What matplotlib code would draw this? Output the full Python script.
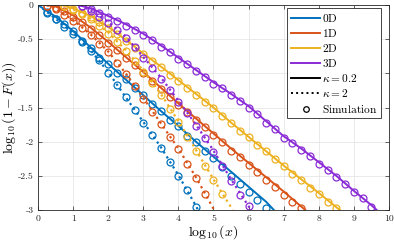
import matplotlib
matplotlib.use('Agg')
import matplotlib.pyplot as plt
from matplotlib.lines import Line2D

plt.rcParams['mathtext.fontset'] = 'cm'
plt.rcParams['font.family'] = ['cmr10', 'DejaVu Serif']
plt.rcParams['axes.unicode_minus'] = False
plt.rcParams['axes.formatter.use_mathtext'] = True

labels = ['0D', '1D', '2D', '3D']
colors = ['#0072BD', '#D95319', '#EDB120', '#8A2BD6']

# fitted curves, kappa = 0.2 (solid)
solid_x = [
    [0, 0.5, 1, 1.5, 2, 2.5, 3, 3.5, 4, 4.5, 5, 5.5, 6, 6.5, 6.72],
    [0.2, 0.5, 1, 1.5, 2, 2.5, 3, 3.5, 4, 4.5, 5, 5.5, 6, 6.5, 7, 7.5, 7.62],
    [0.7, 1, 1.5, 2, 2.5, 3, 3.5, 4, 4.5, 5, 5.5, 6, 6.5, 7, 7.5, 8, 8.5, 8.6],
    [1.15, 1.5, 2, 2.5, 3, 3.5, 4, 4.5, 5, 5.5, 6, 6.5, 7, 7.5, 8, 8.5, 9, 9.5, 9.65],
]
solid_y = [
    [0, -0.17, -0.38, -0.62, -0.86, -1.09, -1.32, -1.55, -1.77, -2.0, -2.22, -2.44, -2.66, -2.88, -3.0],
    [0, -0.02, -0.15, -0.33, -0.54, -0.76, -0.98, -1.21, -1.44, -1.66, -1.88, -2.1, -2.31, -2.52, -2.73, -2.95, -3.0],
    [0, -0.05, -0.16, -0.32, -0.51, -0.71, -0.9, -1.1, -1.3, -1.5, -1.72, -1.93, -2.14, -2.35, -2.55, -2.75, -2.96, -3.0],
    [0, -0.05, -0.16, -0.28, -0.42, -0.59, -0.77, -0.95, -1.13, -1.3, -1.48, -1.7, -1.92, -2.1, -2.3, -2.5, -2.72, -2.93, -3.0],
]

# fitted curves, kappa = 2 (dotted)
dot_x = [
    [0, 0.5, 1, 1.5, 2, 2.5, 3, 3.5, 4, 4.5, 4.56],
    [0.25, 0.5, 1, 1.5, 2, 2.5, 3, 3.5, 4, 4.5, 5.02],
    [0.7, 1, 1.5, 2, 2.5, 3, 3.5, 4, 4.5, 5, 5.55],
    [1.2, 1.5, 2, 2.5, 3, 3.5, 4, 4.5, 5, 5.5, 6.07],
]
dot_y = [
    [0, -0.2, -0.41, -0.66, -0.98, -1.35, -1.71, -2.08, -2.49, -2.94, -3.0],
    [0, -0.05, -0.22, -0.43, -0.68, -1.0, -1.36, -1.73, -2.1, -2.52, -3.0],
    [0, -0.06, -0.2, -0.4, -0.66, -0.96, -1.3, -1.7, -2.12, -2.55, -3.0],
    [0, -0.08, -0.25, -0.46, -0.76, -1.06, -1.4, -1.75, -2.13, -2.55, -3.0],
]

# simulation points (every quarter decade)
sim_solid_x0 = [0.25, 0.25, 0.75, 1.25]
sim_solid_y = [
    [-0.1, -0.2, -0.28, -0.38, -0.52, -0.63, -0.77, -0.86, -0.99, -1.09, -1.22, -1.31, -1.45,
     -1.55, -1.68, -1.77, -1.91, -2.0, -2.14, -2.24, -2.37, -2.5, -2.62, -2.74, -2.85, -2.97],
    [-0.01, -0.04, -0.09, -0.17, -0.25, -0.35, -0.44, -0.56, -0.66, -0.78, -0.88, -1.0, -1.11,
     -1.23, -1.34, -1.46, -1.56, -1.69, -1.78, -1.9, -2.01, -2.13, -2.22, -2.34, -2.44, -2.56,
     -2.66, -2.78, -2.88, -2.97],
    [-0.02, -0.06, -0.12, -0.18, -0.25, -0.33, -0.43, -0.52, -0.63, -0.72, -0.82, -0.91, -1.02,
     -1.11, -1.22, -1.31, -1.42, -1.5, -1.63, -1.72, -1.84, -1.93, -2.05, -2.14, -2.26, -2.35,
     -2.47, -2.56, -2.68, -2.76, -2.88, -2.97],
    [-0.02, -0.06, -0.11, -0.17, -0.23, -0.3, -0.36, -0.44, -0.51, -0.61, -0.69, -0.79, -0.87,
     -0.97, -1.05, -1.15, -1.22, -1.32, -1.4, -1.5, -1.6, -1.72, -1.82, -1.94, -2.02, -2.12,
     -2.21, -2.32, -2.41, -2.52, -2.62, -2.74, -2.83, -2.95],
]
sim_dot_x0 = [0.25, 0.25, 0.75, 1.25]
sim_dot_y = [
    [-0.11, -0.21, -0.32, -0.42, -0.54, -0.67, -0.81, -0.99, -1.17, -1.35, -1.54, -1.73, -1.9,
     -2.09, -2.3, -2.5, -2.71, -2.96],
    [-0.01, -0.06, -0.14, -0.23, -0.33, -0.44, -0.57, -0.69, -0.85, -1.01, -1.19, -1.37, -1.56,
     -1.74, -1.93, -2.11, -2.33, -2.53, -2.76],
    [-0.02, -0.07, -0.13, -0.21, -0.31, -0.42, -0.54, -0.68, -0.82, -0.98, -1.14, -1.32, -1.52,
     -1.71, -1.93, -2.14, -2.35, -2.56, -2.77],
    [-0.02, -0.09, -0.17, -0.27, -0.36, -0.48, -0.61, -0.78, -0.92, -1.08, -1.24, -1.42, -1.58,
     -1.77, -1.95, -2.15, -2.35, -2.57, -2.78, -2.94],
]

xticks = [0, 1, 2, 3, 4, 5, 6, 7, 8, 9, 10]
yticks = [-3, -2.5, -2, -1.5, -1, -0.5, 0]
ytick_labels = ['-3', '-2.5', '-2', '-1.5', '-1', '-0.5', '0']

fig = plt.figure(figsize=(3.94, 2.42), dpi=100)
ax = fig.add_axes([0.0964, 0.1322, 0.8909, 0.8471])

for i in range(4):
    c = colors[i]
    ax.plot(solid_x[i], solid_y[i], '-', color=c, lw=1.4)
    ax.plot(dot_x[i], dot_y[i], ':', color=c, lw=1.6)
    xs = [sim_solid_x0[i] + 0.25 * k for k in range(len(sim_solid_y[i]))]
    ax.plot(xs, sim_solid_y[i], 'o', mfc='none', mec=c, ms=5, mew=0.9)
    xd = [sim_dot_x0[i] + 0.25 * k for k in range(len(sim_dot_y[i]))]
    ax.plot(xd, sim_dot_y[i], 'o', mfc='none', mec=c, ms=5, mew=0.9)

ax.set_xlim(0, 10)
ax.set_ylim(-3, 0)
ax.set_xticks(xticks)
ax.set_xticklabels([str(t) for t in xticks])
ax.set_yticks(yticks)
ax.set_yticklabels(ytick_labels)
ax.tick_params(direction='in', top=True, right=True, labelsize=7, length=3,
               width=0.5, colors='#262626', pad=3)
ax.grid(True, color='#e6e6e6', lw=0.6)
ax.set_axisbelow(True)
for s in ax.spines.values():
    s.set_linewidth(0.6)
    s.set_color('#262626')

ax.set_xlabel(r'$\log_{10}(x)$', fontsize=10, va='center')
ax.set_ylabel(r'$\log_{10}(1-F(x))$', fontsize=10, va='center')
ax.xaxis.set_label_coords(0.5, -0.108)
ax.yaxis.set_label_coords(-0.083, 0.5)

handles = [Line2D([0], [0], color=colors[i], lw=1.4) for i in range(4)]
handles += [Line2D([0], [0], color='k', lw=1.4, ls='-'),
            Line2D([0], [0], color='k', lw=1.4, ls=':'),
            Line2D([0], [0], color='k', ls='none', marker='o', mfc='none', ms=4, mew=0.9)]
leg_labels = [r'$\mathrm{%s}$' % l for l in labels] + [r'$\kappa=0.2$', r'$\kappa=2$', r'$\mathrm{Simulation}$']
leg = ax.legend(handles, leg_labels, loc='upper right', bbox_to_anchor=(0.977, 0.985),
                fontsize=8.2, frameon=True, fancybox=False, edgecolor='#262626',
                framealpha=1, handlelength=2.6, handletextpad=0.15, labelspacing=0.28,
                borderpad=0.3, borderaxespad=0)
leg.get_frame().set_linewidth(0.6)

fig.savefig('out.png', dpi=100)
